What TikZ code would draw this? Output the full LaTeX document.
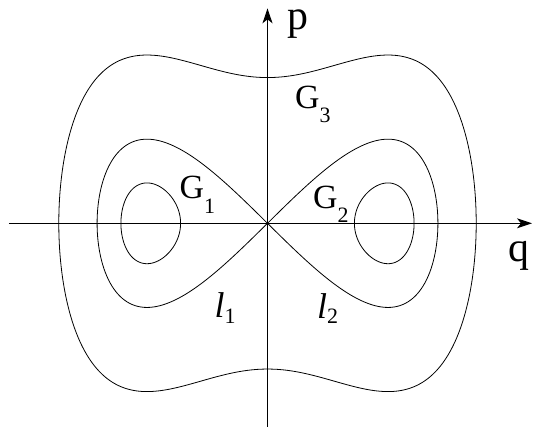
\documentclass[tikz,border=0pt]{standalone}
\usepackage{fontspec}
\setmainfont{Liberation Serif}
\usetikzlibrary{arrows.meta}
\newcommand{\subdig}[2]{\raisebox{-#1bp}{\fontsize{22}{22}\selectfont\upshape #2}}
\tikzset{
  curve/.style={line width=0.8bp, black},
  axis/.style={line width=1bp, black, -{Stealth[length=15bp,width=10bp,inset=4bp]}},
  biglab/.style={inner sep=0pt, anchor=base west, font=\fontsize{42}{42}\selectfont},
  glab/.style={inner sep=0pt, anchor=base west, font=\fontsize{34}{34}\selectfont},
  llab/.style={inner sep=0pt, anchor=base west, font=\fontsize{36}{36}\selectfont\itshape},
}
\begin{document}
\begin{tikzpicture}[x=1bp,y=1bp]
\useasboundingbox (-267.5,-202.7) rectangle (265.5,223.3);
% axes
\coordinate (qstart) at (-258.5,0);
\coordinate (qend) at (264.5,0);
\coordinate (pstart) at (0,-204);
\coordinate (pend) at (0,215);
\draw[axis] (qstart) -- (qend);
\draw[axis] (pstart) -- (pend);
% inner loops
\draw[curve] plot[domain=0:360, samples=120, smooth cycle, variable=\t]
  ({120.5*sqrt(1+0.48*cos(\t))}, {119*0.48*sin(\t)/sqrt(2)});
\draw[curve] plot[domain=0:360, samples=120, smooth cycle, variable=\t]
  ({-120.5*sqrt(1+0.48*cos(\t))}, {119*0.48*sin(\t)/sqrt(2)});
% separatrix (figure eight)
\draw[curve] plot[domain=0:720, samples=241, smooth, variable=\t]
  ({120.5*sqrt(2)*cos(\t/2)}, {119*sin(\t)/sqrt(2)});
% outer curve
\draw[curve] plot[domain=0:360, samples=200, smooth cycle, variable=\s]
  ({120.5*sqrt(3)*sin(\s)}, {119*sqrt(1.5)*cos(\s)*sqrt(1+3*sin(\s)*sin(\s))});
% labels
\node[biglab] (p) at (19.5,194) {p};
\node[biglab] (q) at (241,-38) {q};
\node[glab] (g1) at (-88,25.3) {G\subdig{15}{1}};
\node[glab] (g2) at (45.5,15.3) {G\subdig{14}{2}};
\node[glab] (g3) at (27.5,115.3) {G\subdig{14}{3}};
\node[llab] (l1) at (-53,-93.7) {l\subdig{6}{1}};
\node[llab] (l2) at (49.5,-94.7) {l\subdig{5}{2}};
\end{tikzpicture}
\end{document}
